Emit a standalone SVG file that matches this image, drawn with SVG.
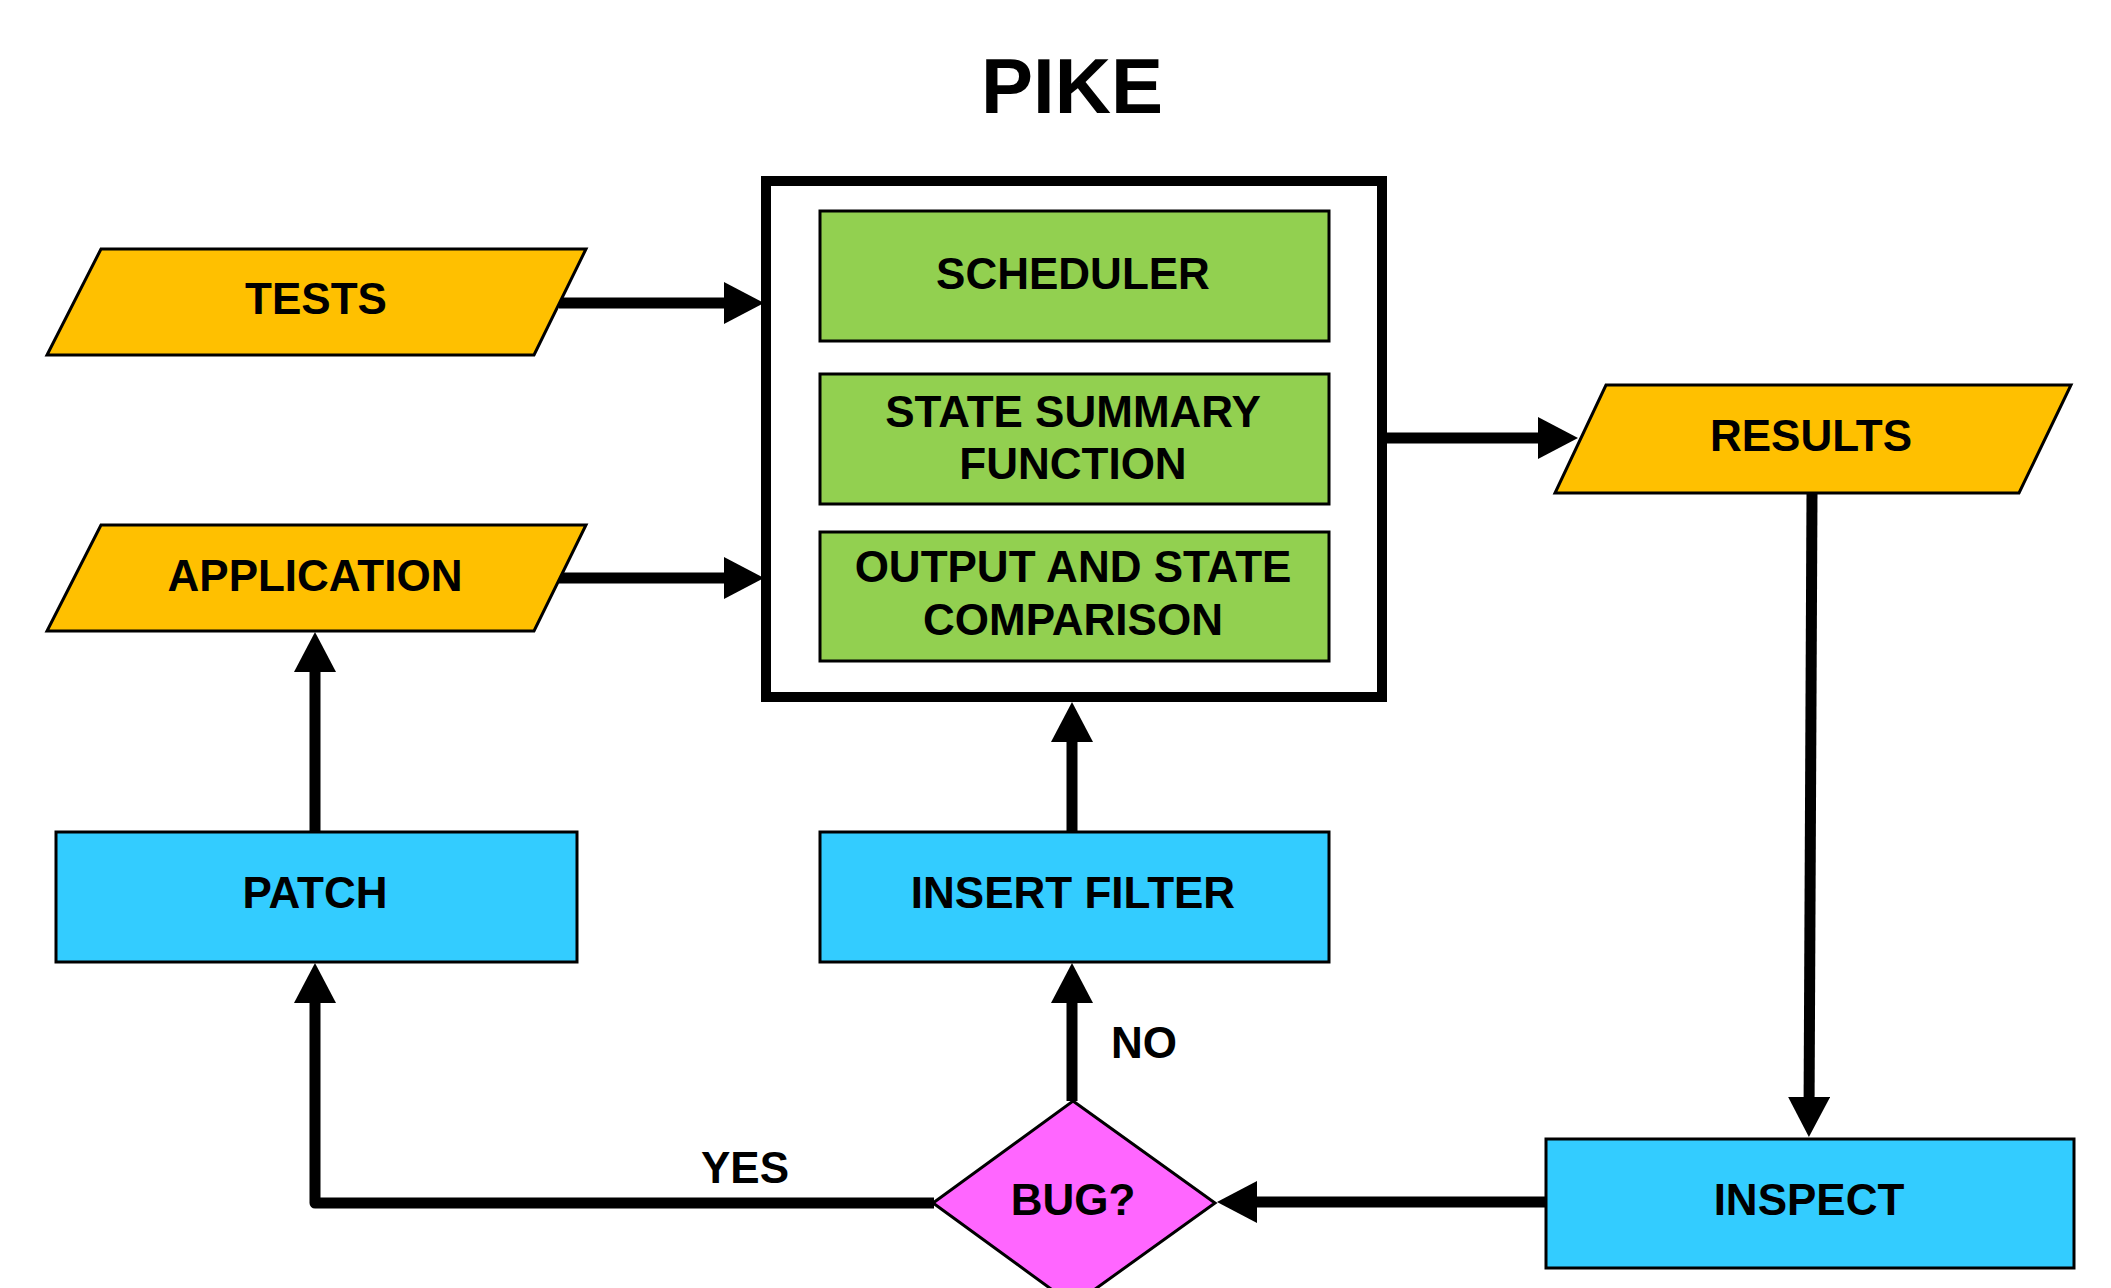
<svg xmlns="http://www.w3.org/2000/svg" width="2111" height="1288" viewBox="0 0 2111 1288">
<style>
text{font-family:"Liberation Sans",Arial,sans-serif;font-weight:bold;fill:#000;text-anchor:middle}
.lbl{font-size:44px}
.io{fill:#FFC000;stroke:#000;stroke-width:3;stroke-linejoin:miter}
.proc{fill:#33CCFF;stroke:#000;stroke-width:3}
.comp{fill:#92D050;stroke:#000;stroke-width:3}
.dec{fill:#FF66FF;stroke:#000;stroke-width:3}
.edge{fill:none;stroke:#000;stroke-width:11;marker-end:url(#ah)}
.plain{fill:none;stroke:#000;stroke-width:11}
</style>
<defs>
<marker id="ah" markerUnits="userSpaceOnUse" markerWidth="42" markerHeight="42" refX="20" refY="21" orient="auto">
<path d="M0,0 L40,21 L0,42 Z" fill="#000"/>
</marker>
</defs>
<rect width="2111" height="1288" fill="#fff"/>
<text x="1072" y="113" style="font-size:78px">PIKE</text>

<g id="connectors">
<line class="edge" x1="559" y1="303" x2="744" y2="303"/>
<line class="edge" x1="559" y1="578" x2="744" y2="578"/>
<line class="edge" x1="1383" y1="438" x2="1558" y2="438"/>
<line class="edge" x1="1812" y1="493" x2="1809" y2="1117"/>
<line class="edge" x1="1545" y1="1202" x2="1237" y2="1202"/>
<line class="edge" x1="1072" y1="1101" x2="1072" y2="983"/>
<line class="edge" x1="1072" y1="832" x2="1072" y2="722"/>
<line class="edge" x1="315" y1="832" x2="315" y2="652"/>
<path class="edge" d="M934,1203 L315,1203 L315,983" stroke-linejoin="round"/>
<text class="lbl" x="1144" y="1058">NO</text>
<text class="lbl" x="745" y="1183">YES</text>
</g>

<g id="pike">
<rect x="766" y="181" width="616" height="516" fill="#fff" stroke="#000" stroke-width="10"/>
</g>
<g id="scheduler">
<rect class="comp" x="820" y="211" width="509" height="130"/>
<text class="lbl" x="1073" y="289">SCHEDULER</text>
</g>
<g id="state-summary">
<rect class="comp" x="820" y="374" width="509" height="130"/>
<text class="lbl" x="1073" y="427">STATE SUMMARY</text>
<text class="lbl" x="1073" y="479">FUNCTION</text>
</g>
<g id="output-comparison">
<rect class="comp" x="820" y="532" width="509" height="129"/>
<text class="lbl" x="1073" y="582">OUTPUT AND STATE</text>
<text class="lbl" x="1073" y="635">COMPARISON</text>
</g>

<g id="tests">
<polygon class="io" points="101,249 586,249 534,355 47,355"/>
<text class="lbl" x="316" y="314">TESTS</text>
</g>
<g id="application">
<polygon class="io" points="101,525 586,525 534,631 47,631"/>
<text class="lbl" x="315" y="591">APPLICATION</text>
</g>
<g id="results">
<polygon class="io" points="1606,385 2071,385 2019,493 1555,493"/>
<text class="lbl" x="1811" y="451">RESULTS</text>
</g>
<g id="patch">
<rect class="proc" x="56" y="832" width="521" height="130"/>
<text class="lbl" x="315" y="908">PATCH</text>
</g>
<g id="insert-filter">
<rect class="proc" x="820" y="832" width="509" height="130"/>
<text class="lbl" x="1073" y="908">INSERT FILTER</text>
</g>
<g id="inspect">
<rect class="proc" x="1546" y="1139" width="528" height="129"/>
<text class="lbl" x="1809" y="1215">INSPECT</text>
</g>
<g id="bug">
<polygon class="dec" points="1073,1101 1215,1203 1073,1305 933,1203"/>
<text class="lbl" x="1073" y="1215">BUG?</text>
</g>
</svg>
